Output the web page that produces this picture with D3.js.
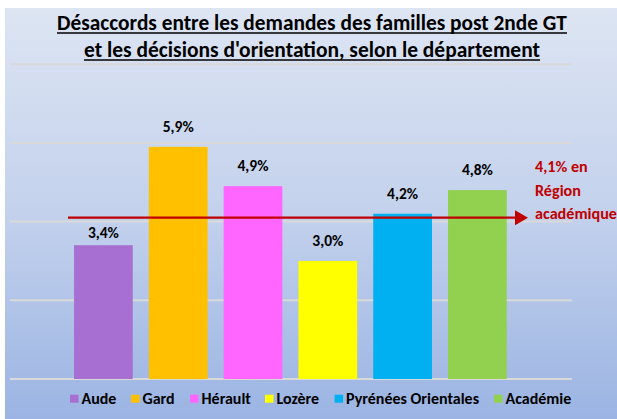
<!DOCTYPE html>
<html><head><meta charset="utf-8">
<script src="https://cdn.jsdelivr.net/npm/d3@7/dist/d3.min.js"></script>
<style>body{margin:0;background:#fff}svg{display:block}text{font-family:Carlito,Lato,"Open Sans",sans-serif;font-weight:bold}</style>
</head><body><svg id="c" width="617" height="419"></svg>
<script>
const categories = ["Aude","Gard","Hérault","Lozère","Pyrénées Orientales","Académie"];
const values = [3.4, 5.9, 4.9, 3.0, 4.2, 4.8];
const colors = ["#A86FD3","#FFC000","#FF66FF","#FFFF00","#00B0F0","#92D050"];
const labels = ["3,4%","5,9%","4,9%","3,0%","4,2%","4,8%"];
const yTicks = [0, 2, 4, 6, 8];
const regionValue = 4.1;
const regionLabel = ["4,1% en","Région","académique"];
const titleLines = ["Désaccords entre les demandes des familles post 2nde GT","et les décisions d'orientation, selon le département"];

const svg = d3.select("#c");
function fitSize(txt, target){
  const t = svg.append("text").attr("font-size",20).text(txt);
  const w = t.node().getComputedTextLength(); t.remove();
  return 20*target/w;
}
const defs = svg.append("defs");
const g = defs.append("linearGradient").attr("id","bg").attr("x1",0).attr("y1",0).attr("x2",0).attr("y2",1);
g.append("stop").attr("offset","0%").attr("stop-color","#DDE5F3");
g.append("stop").attr("offset","50%").attr("stop-color","#C3D1EC");
g.append("stop").attr("offset","100%").attr("stop-color","#9BB4E3");
svg.append("rect").attr("x",5).attr("y",8).attr("width",612).attr("height",411).attr("fill","url(#bg)");

const y = d3.scaleLinear().domain([0,8]).range([379,64.2]);
const x = d3.scaleBand().domain(categories).range([66,514.8]).paddingInner(0.215).paddingOuter(0.1075);

// gridlines
svg.append("g").selectAll("line").data(yTicks).join("line")
  .attr("x1",10).attr("x2",572).attr("y1",d=>y(d)).attr("y2",d=>y(d))
  .attr("stroke","#D9D9D9").attr("stroke-width",2);

// bars
svg.append("g").selectAll("rect").data(values).join("rect")
  .attr("x",(d,i)=>x(categories[i])).attr("width",x.bandwidth())
  .attr("y",d=>y(d)).attr("height",d=>y(0)-y(d))
  .attr("fill",(d,i)=>colors[i]);

const ry = y(regionValue);
// value labels
const labSize = fitSize("3,4%", 31);
svg.append("g").selectAll("text").data(values).join("text")
  .attr("x",(d,i)=>x(categories[i])+x.bandwidth()/2)
  .attr("y",d=>{ let b = y(d)-15; if (b-11 < ry+2 && b > ry-2) b = y(d)-7.5; return b; })
  .attr("text-anchor","middle").attr("font-size",labSize).attr("fill","#000")
  .text((d,i)=>labels[i]);

// region arrow
svg.append("line").attr("x1",68).attr("x2",517).attr("y1",ry).attr("y2",ry)
  .attr("stroke","#C00000").attr("stroke-width",2.2);
svg.append("path").attr("d",`M515,${ry-7.5}L528,${ry}L515,${ry+7.5}Z`).attr("fill","#C00000");
const regSize = fitSize("académique", 82);
svg.append("g").selectAll("text").data(regionLabel).join("text")
  .attr("x",535).attr("y",(d,i)=>ry-45.5+i*23.5).attr("font-size",regSize).attr("fill","#C00000")
  .text(d=>d);

// title
const tWidths = [510, 456];
const tBase = [30, 57];
const tCx = 312;
titleLines.forEach((t,i)=>{
  svg.append("text").attr("x",tCx).attr("y",tBase[i]).attr("text-anchor","middle")
    .attr("font-size",fitSize(t, tWidths[i])).attr("fill","#000").text(t);
  svg.append("line").attr("x1",tCx-tWidths[i]/2).attr("x2",tCx+tWidths[i]/2)
    .attr("y1",tBase[i]+3).attr("y2",tBase[i]+3).attr("stroke","#000").attr("stroke-width",1.3);
});

// legend
const legSize = fitSize("Pyrénées Orientales", 133);
const legX = [70,131,190,265,334.6,494];
const leg = svg.append("g").selectAll("g").data(categories).join("g")
  .attr("transform",(d,i)=>`translate(${legX[i]},394.7)`);
leg.append("rect").attr("width",8.5).attr("height",8).attr("fill",(d,i)=>colors[i]);
leg.append("text").attr("x",11.5).attr("y",9.3).attr("font-size",legSize).attr("fill","#000").text(d=>d);
</script></body></html>
